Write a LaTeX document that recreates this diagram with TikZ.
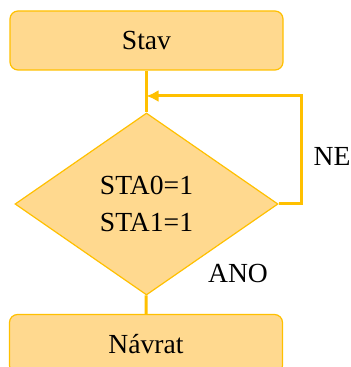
\documentclass[tikz,border=0pt]{standalone}
\usepackage{fontspec}
\setmainfont{Liberation Serif}
\usetikzlibrary{shapes,arrows.meta}
\definecolor{boxfill}{HTML}{FFD98F}
\definecolor{boxline}{HTML}{FFC000}

\begin{document}
\begin{tikzpicture}[>={Latex[length=6pt,width=6pt]},x=0.5pt,y=-0.5pt,
  block/.style={rectangle,draw=boxline,fill=boxfill,line width=0.6pt,rounded corners=4pt,minimum width=136.5pt,minimum height=29.5pt,font=\fontsize{13.8}{18.3}\selectfont},
  cond/.style={diamond,draw=boxline,fill=boxfill,line width=0.6pt,inner sep=0pt,minimum width=131.5pt,minimum height=91pt,align=center,font=\fontsize{13.8}{18.3}\selectfont},
  flow/.style={draw=boxline,line width=1.5pt},
  lbl/.style={font=\fontsize{13.8}{16}\selectfont,inner sep=0pt}]
\useasboundingbox (0,0) rectangle (351,367);
\node[block] (stav) at (146.5,40.5) {Stav};
\node[cond] (test) at (146.5,204) {STA0=1\\STA1=1};
\node[block] (navrat) at (146,344) {Návrat};
\coordinate (join) at (146.5,96);
\coordinate (back) at (301.5,204);
\node[lbl] (ne) at (332,156) {NE};
\node[lbl] (ano) at (238,273) {ANO};

\draw [flow] (stav) -- (test);
\draw [flow,->] (test.east) -- (back) |- (join);
\draw [flow] (test) -- (navrat);

\end{tikzpicture}
\end{document}
